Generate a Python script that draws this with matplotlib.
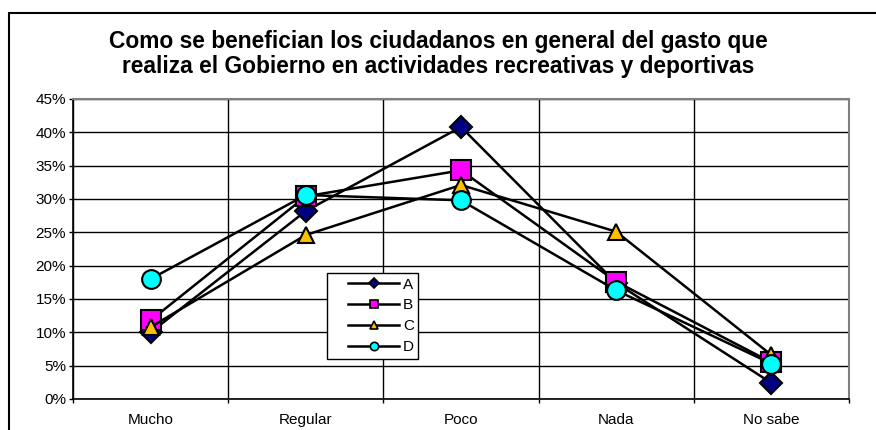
import matplotlib
matplotlib.use("Agg")
import matplotlib.pyplot as plt
from matplotlib.patches import Rectangle
from matplotlib.lines import Line2D
from matplotlib.legend_handler import HandlerLine2D
from matplotlib.ticker import FixedLocator, PercentFormatter

plt.rcParams['font.family'] = ['Liberation Sans', 'DejaVu Sans']

categories = ["Mucho", "Regular", "Poco", "Nada", "No sabe"]
series_names = ["A", "B", "C", "D"]
A = [10.0, 28.2, 40.8, 17.4, 2.4]
B = [11.8, 30.4, 34.3, 17.6, 5.5]
C = [10.8, 24.6, 32.1, 25.1, 6.6]
D = [18.0, 30.6, 29.8, 16.3, 5.3]
series = [A, B, C, D]
y_ticks = [0, 5, 10, 15, 20, 25, 30, 35, 40, 45]
title = "Como se benefician los ciudadanos en general del gasto que\nrealiza el Gobierno en actividades recreativas y deportivas"

markers = ["D", "s", "^", "o"]
colors = ["#000080", "#FF00FF", "#FFC000", "#00FFFF"]
msizes = [11, 14, 11, 13.5]
leg_ms = [5.5, 6, 6, 6]

W, H = 876, 430
fig = plt.figure(figsize=(W / 100, H / 100), dpi=100)
ax = fig.add_axes([73 / W, (H - 399) / H, (849 - 73) / W, 300 / H])

# figure frame
fig.patches.append(Rectangle((9 / W, -0.1), 1.2, (H - 13) / H + 0.1, transform=fig.transFigure,
                             fill=False, edgecolor="black", linewidth=1.5, zorder=0))

x = list(range(len(categories)))
for name, vals, m, c, ms in zip(series_names, series, markers, colors, msizes):
    ax.plot(x, vals, color="black", linewidth=1.8, marker=m, markersize=ms,
            markerfacecolor=c, markeredgecolor="black", markeredgewidth=1.5,
            label=name, zorder=3, clip_on=False)

ax.set_xlim(-0.5, len(categories) - 0.5)
ax.set_ylim(0, 45)
ax.yaxis.set_major_locator(FixedLocator(y_ticks))
ax.yaxis.set_major_formatter(PercentFormatter(decimals=0))
ax.set_xticks(x)
ax.set_xticklabels(categories)
ax.set_xticks([i - 0.5 for i in range(len(categories) + 1)], minor=True)

ax.grid(axis="y", which="major", color="black", linewidth=1.0)
ax.grid(axis="x", which="minor", color="black", linewidth=1.0)
ax.set_axisbelow(True)

ax.tick_params(axis="x", which="major", length=0, pad=10, labelsize=11)
ax.tick_params(axis="x", which="minor", length=3, width=1, direction="out")
ax.tick_params(axis="y", which="major", length=3, width=1, direction="out", pad=2, labelsize=11)

for side in ["top", "right"]:
    ax.spines[side].set_color("#808080")
    ax.spines[side].set_linewidth(1.5)
ax.spines["left"].set_color("black")
ax.spines["bottom"].set_color("black")
ax.spines["left"].set_linewidth(1.2)
ax.spines["bottom"].set_linewidth(1.2)

fig.text(0.5, (H - 73) / H, title, ha="center", va="baseline", fontsize=16.4,
         fontweight="bold", linespacing=1.12)

fs = 11
fs_px = fs * 100 / 72
leg_handles = [Line2D([0], [0], color="black", linewidth=1.8, marker=m, markersize=s,
                      markerfacecolor=c, markeredgecolor="black", markeredgewidth=1.2)
               for m, c, s in zip(markers, colors, leg_ms)]
bp = 0.3
box_start = 327 + bp * fs_px
hl = (399 - box_start) / fs_px
xp = (348 - box_start) / fs_px
leg = ax.legend(leg_handles, series_names, loc="upper left",
                bbox_to_anchor=((327 - 73) / 776, (399 - 273) / 300),
                frameon=True, fancybox=False, edgecolor="black", framealpha=1,
                fontsize=fs, handlelength=hl, handletextpad=0.25, labelspacing=0.45,
                borderpad=bp, borderaxespad=0,
                handler_map={Line2D: HandlerLine2D(xpad=xp)})
leg.get_frame().set_linewidth(1.0)
leg.set_zorder(5)

fig.savefig("out.png", dpi=100)
